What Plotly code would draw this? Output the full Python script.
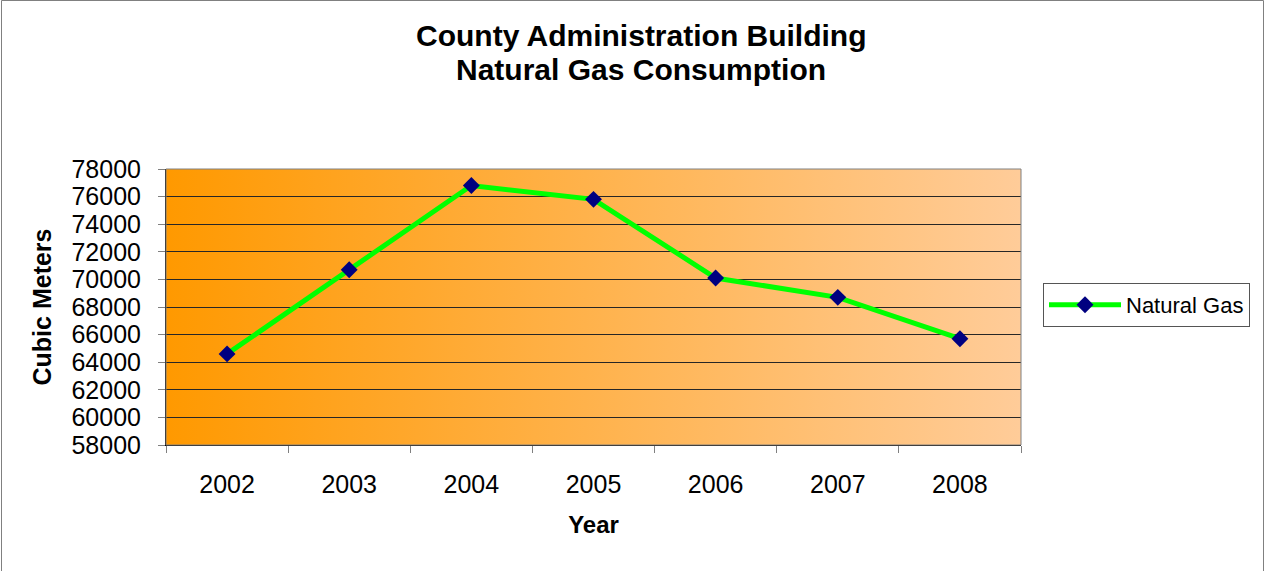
import base64
import plotly.graph_objects as go

# Annual natural gas use, County Administration Building
years = ["2002", "2003", "2004", "2005", "2006", "2007", "2008"]
natural_gas_m3 = [64600, 70700, 76800, 75800, 70100, 68700, 65700]

y_ticks = list(range(58000, 78001, 2000))
y_tick_labels = [str(v) for v in y_ticks]

title_lines = ["County Administration Building", "Natural Gas Consumption"]

# Page geometry (px)
W, H = 1265, 571
ML, MR, MT, MB = 166, 244, 169, 126
PW, PH = W - ML - MR, H - MT - MB


def px_x(px):
    return (px - ML) / PW


def px_y(py):
    return (H - MB - py) / PH


FONT = "Liberation Sans, Arial, sans-serif"

# Horizontal orange-to-peach fill for the plotting area
grad_svg = (
    '<svg xmlns="http://www.w3.org/2000/svg" width="100" height="100" preserveAspectRatio="none">'
    '<defs><linearGradient id="g" x1="0" y1="0" x2="1" y2="0">'
    '<stop offset="0" stop-color="#FF9900"/>'
    '<stop offset="1" stop-color="#FFCC99"/>'
    '</linearGradient></defs>'
    '<rect width="100" height="100" fill="url(#g)"/></svg>'
)
grad_src = "data:image/svg+xml;base64," + base64.b64encode(grad_svg.encode()).decode()

fig = go.Figure()
fig.add_trace(
    go.Scatter(
        x=years,
        y=natural_gas_m3,
        mode="lines+markers",
        name="Natural Gas",
        line=dict(color="#00FF00", width=5),
        marker=dict(symbol="diamond", size=13, color="#000080"),
    )
)

title_annotations = [
    dict(
        text=f"<b>{line}</b>",
        xref="paper", yref="paper",
        x=px_x(641), y=px_y(cy),
        xanchor="center", yanchor="middle",
        showarrow=False,
        font=dict(size=30, family=FONT),
    )
    for line, cy in zip(title_lines, [35, 70])
]

fig.update_layout(
    width=W,
    height=H,
    margin=dict(l=ML, r=MR, t=MT, b=MB, autoexpand=False),
    paper_bgcolor="white",
    plot_bgcolor="white",
    font=dict(family=FONT, size=25, color="black"),
    showlegend=True,
    legend=dict(
        x=px_x(1043),
        y=px_y(283),
        xanchor="left",
        yanchor="top",
        bordercolor="#555555",
        borderwidth=1,
        bgcolor="white",
        font=dict(size=22),
        itemwidth=72,
    ),
    xaxis=dict(
        type="category",
        range=[-0.5, 6.5],
        tickson="boundaries",
        ticks="outside",
        ticklen=7,
        tickcolor="#808080",
        ticklabelstandoff=17,
        showgrid=False,
        showline=True,
        linecolor="black",
        linewidth=1,
        title=dict(text="<b>Year</b>", standoff=19, font=dict(size=24)),
        fixedrange=True,
    ),
    yaxis=dict(
        range=[58000, 78000],
        tickvals=y_ticks,
        ticktext=y_tick_labels,
        ticks="outside",
        ticklen=7,
        tickcolor="#808080",
        ticklabelstandoff=12,
        showgrid=True,
        gridcolor="#262626",
        gridwidth=1,
        showline=True,
        linecolor="black",
        linewidth=1,
        zeroline=False,
        title=dict(text="<b>Cubic Meters</b>", standoff=12, font=dict(size=25)),
        fixedrange=True,
    ),
    images=[
        dict(
            source=grad_src,
            xref="paper",
            yref="paper",
            x=0,
            y=1,
            sizex=1,
            sizey=1,
            xanchor="left",
            yanchor="top",
            sizing="stretch",
            layer="below",
        )
    ],
    shapes=[
        # plot-area frame (top / right edges in grey)
        dict(
            type="rect", xref="paper", yref="paper", x0=0, x1=1, y0=0, y1=1,
            line=dict(color="#808080", width=1), layer="above",
        ),
        # chart border
        dict(
            type="rect", xref="paper", yref="paper",
            x0=px_x(1.5), x1=px_x(1263.5), y0=px_y(571.5), y1=px_y(0.5),
            line=dict(color="#808080", width=1), layer="above",
        ),
    ],
    annotations=title_annotations,
)

fig.write_html("out.html")
